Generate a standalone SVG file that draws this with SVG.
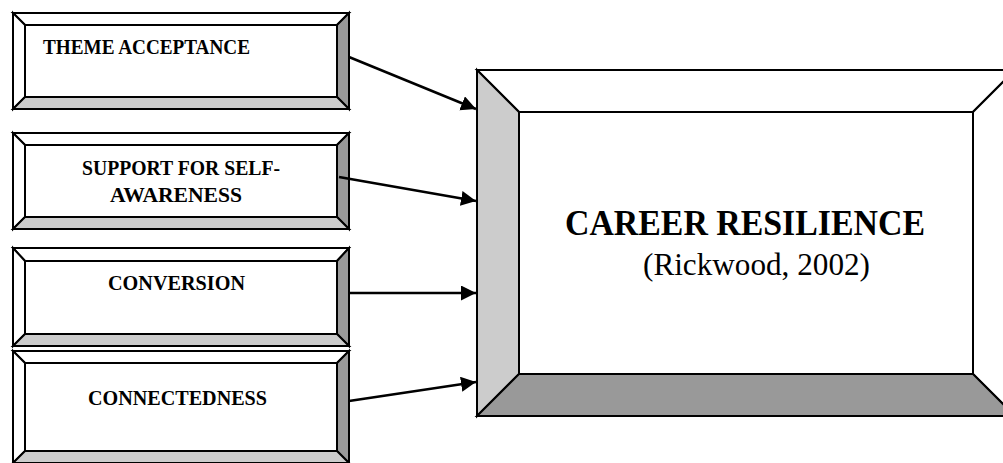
<svg xmlns="http://www.w3.org/2000/svg" width="1003" height="463" viewBox="0 0 1003 463">
  <style>
    .edge { stroke: #000; stroke-width: 2; stroke-linejoin: miter; }
    .lite { fill: #ffffff; }
    .mid { fill: #cccccc; }
    .dark { fill: #999999; }
    .face { fill: #ffffff; stroke: #000; stroke-width: 2; }
    .lbl { font-family: "Liberation Serif", "DejaVu Serif", serif; font-weight: 900; font-size: 21px; fill: #000; }
    .title { font-family: "Liberation Serif", "DejaVu Serif", serif; font-weight: 900; font-size: 35px; fill: #000; }
    .cite { font-family: "Liberation Serif", "Times New Roman", serif; font-size: 31px; fill: #000; }
    .link { stroke: #000; stroke-width: 2.5; fill: none; marker-end: url(#tip); }
  </style>
  <defs>
    <marker id="tip" markerUnits="userSpaceOnUse" markerWidth="16" markerHeight="16" refX="15" refY="7.5" orient="auto">
      <path d="M0,0 L15,7.5 L0,15 Z" fill="#000"/>
    </marker>
  </defs>
  <rect width="1003" height="463" fill="#fff"/>

  <!-- factor boxes: bevelled panels, light top/left, grey bottom, dark right -->
  <g id="theme-acceptance">
    <polygon class="edge lite" points="13,13 349,13 337,25 25,25"/>
    <polygon class="edge lite" points="13,13 25,25 25,97 13,109"/>
    <polygon class="edge dark" points="349,13 349,109 337,97 337,25"/>
    <polygon class="edge mid" points="13,109 349,109 337,97 25,97"/>
    <rect class="face" x="25" y="25" width="312" height="72"/>
    <text class="lbl" x="43" y="54" textLength="207" lengthAdjust="spacingAndGlyphs">THEME ACCEPTANCE</text>
  </g>

  <g id="support-self-awareness">
    <polygon class="edge lite" points="13,133 349,133 337,145 25,145"/>
    <polygon class="edge lite" points="13,133 25,145 25,217 13,229"/>
    <polygon class="edge dark" points="349,133 349,229 337,217 337,145"/>
    <polygon class="edge mid" points="13,229 349,229 337,217 25,217"/>
    <rect class="face" x="25" y="145" width="312" height="72"/>
    <text class="lbl" x="82" y="175" textLength="198" lengthAdjust="spacingAndGlyphs">SUPPORT FOR SELF-</text>
    <text class="lbl" x="110" y="202" textLength="132" lengthAdjust="spacingAndGlyphs">AWARENESS</text>
  </g>

  <g id="conversion">
    <polygon class="edge lite" points="13,248 349,248 337,261 25,261"/>
    <polygon class="edge lite" points="13,248 25,261 25,334 13,346"/>
    <polygon class="edge dark" points="349,248 349,346 337,334 337,261"/>
    <polygon class="edge mid" points="13,346 349,346 337,334 25,334"/>
    <rect class="face" x="25" y="261" width="312" height="73"/>
    <text class="lbl" x="108" y="290" textLength="137" lengthAdjust="spacingAndGlyphs">CONVERSION</text>
  </g>

  <g id="connectedness">
    <polygon class="edge lite" points="13,351 349,351 337,363 25,363"/>
    <polygon class="edge lite" points="13,351 25,363 25,451 13,463"/>
    <polygon class="edge dark" points="349,351 349,463 337,451 337,363"/>
    <polygon class="edge mid" points="13,463 349,463 337,451 25,451"/>
    <rect class="face" x="25" y="363" width="312" height="88"/>
    <text class="lbl" x="88" y="405" textLength="179" lengthAdjust="spacingAndGlyphs">CONNECTEDNESS</text>
  </g>

  <!-- outcome panel: grey left and bottom bevels -->
  <g id="career-resilience">
    <polygon class="edge lite" points="477,70 1015,70 973,112 519,112"/>
    <polygon class="edge mid" points="477,70 519,112 519,374 477,416"/>
    <polygon class="edge lite" points="1015,70 1015,416 973,374 973,112"/>
    <polygon class="edge dark" points="477,416 1015,416 973,374 519,374"/>
    <rect class="face" x="519" y="112" width="454" height="262"/>
    <text class="title" x="565" y="235" textLength="360" lengthAdjust="spacingAndGlyphs">CAREER RESILIENCE</text>
    <text class="cite" x="643" y="275" textLength="227" lengthAdjust="spacingAndGlyphs">(Rickwood, 2002)</text>
  </g>

  <g id="connectors">
    <line class="link" x1="349" y1="57" x2="476" y2="109"/>
    <line class="link" x1="339" y1="177" x2="476" y2="201"/>
    <line class="link" x1="349" y1="293" x2="476" y2="293"/>
    <line class="link" x1="349" y1="401" x2="476" y2="382"/>
  </g>
</svg>
